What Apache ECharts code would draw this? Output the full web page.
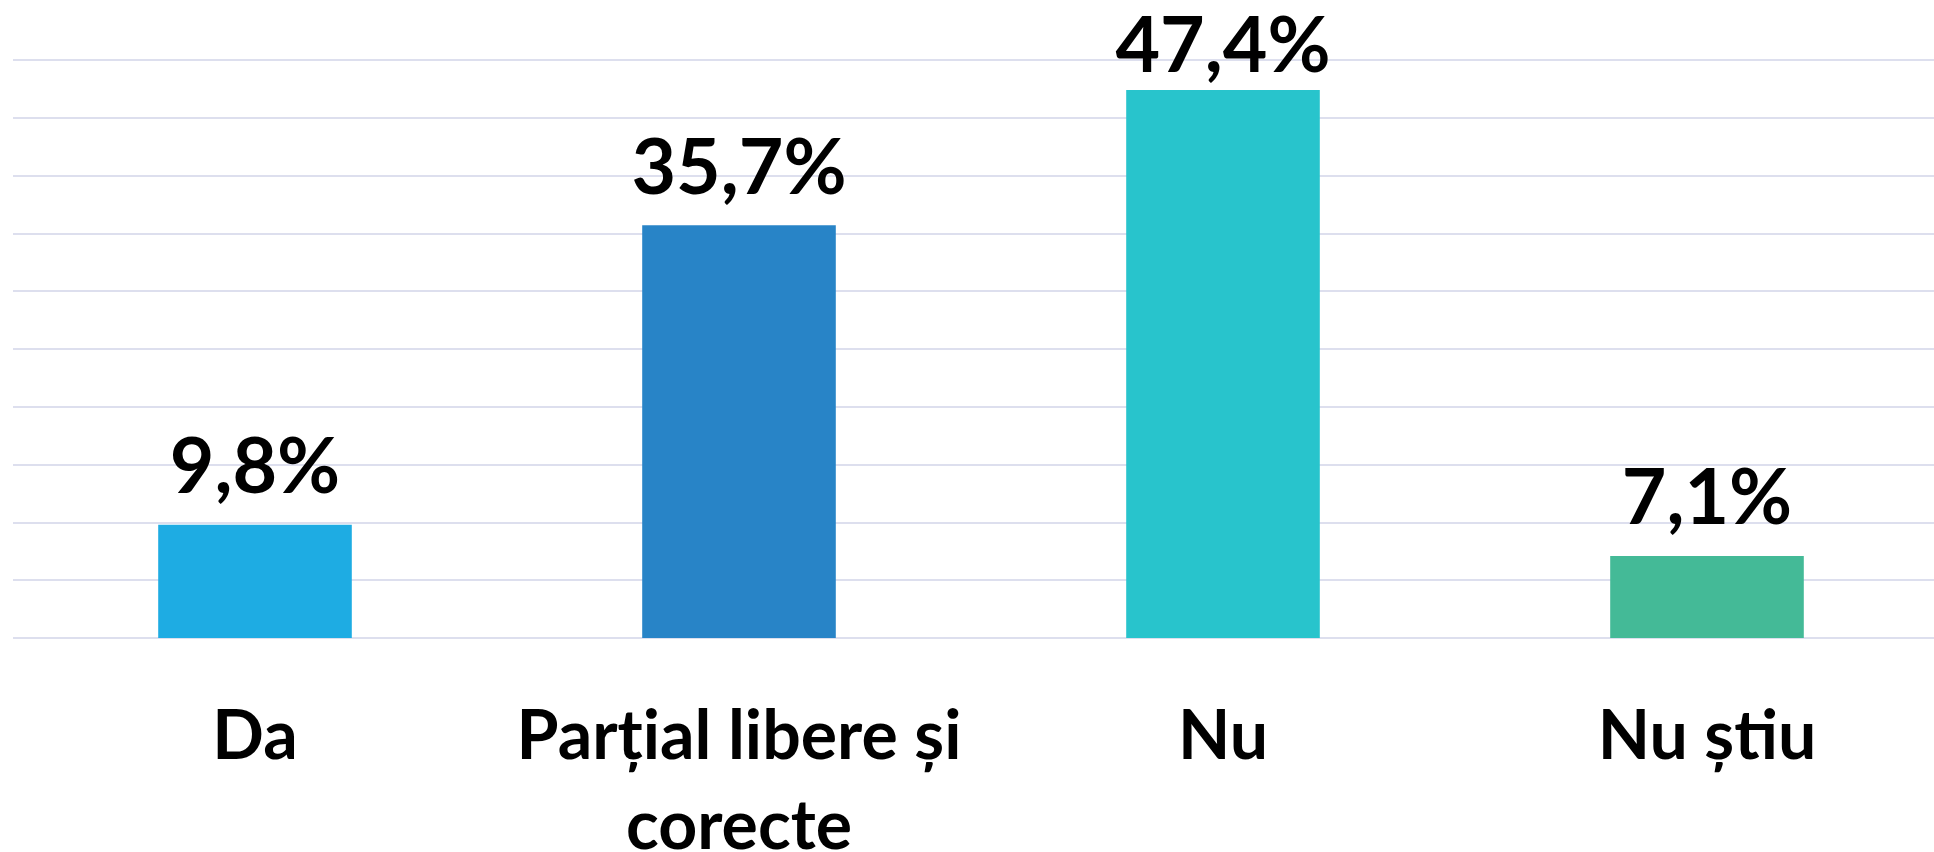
<!DOCTYPE html>
<html>
<head>
<meta charset="utf-8">
<script src="https://cdn.jsdelivr.net/npm/echarts@6/dist/echarts.min.js"></script>
<style>
    html, body { margin: 0; padding: 0; background: #fff; }
    #chart { width: 1934px; height: 852px; }
</style>
</head>
<body>
<div id="chart"></div>
<script type="text/javascript">
    var categories = ['Da', 'Parțial libere și\ncorecte', 'Nu', 'Nu știu'];
    var values = [9.8, 35.7, 47.4, 7.1];
    var barColors = ['#1EACE3', '#2884C7', '#28C4CC', '#44BA97'];

    var maxVal = Math.max.apply(null, values);

    var chart = echarts.init(document.getElementById('chart'));
    chart.setOption({
        animation: false,
        grid: {
            left: 13,
            top: 60,
            width: 1936,
            height: 578,
            outerBoundsMode: 'none',
            containLabel: false
        },
        xAxis: {
            type: 'category',
            data: categories,
            axisLine: { show: false },
            axisTick: { show: false },
            axisLabel: {
                interval: 0,
                margin: 54,
                color: '#000',
                fontFamily: 'Lato',
                fontWeight: 'bold',
                fontSize: 68,
                lineHeight: 90
            }
        },
        yAxis: {
            type: 'value',
            min: 0,
            max: 50,
            interval: 5,
            axisLabel: { show: false },
            axisLine: { show: false },
            axisTick: { show: false },
            splitLine: { lineStyle: { color: '#DDDFEE', width: 2 } }
        },
        series: [
            {
                type: 'bar',
                barWidth: '40%',
                data: values.map(function (v, i) {
                    return {
                        value: v,
                        itemStyle: { color: barColors[i] },
                        label: { distance: v === maxVal ? 4 : 18 }
                    };
                }),
                label: {
                    show: true,
                    position: 'top',
                    color: '#000',
                    fontFamily: 'Lato',
                    fontWeight: 'bold',
                    fontSize: 77,
                    formatter: function (p) {
                        return p.value.toFixed(1).replace('.', ',') + '%';
                    }
                }
            }
        ]
    });
</script>
</body>
</html>
